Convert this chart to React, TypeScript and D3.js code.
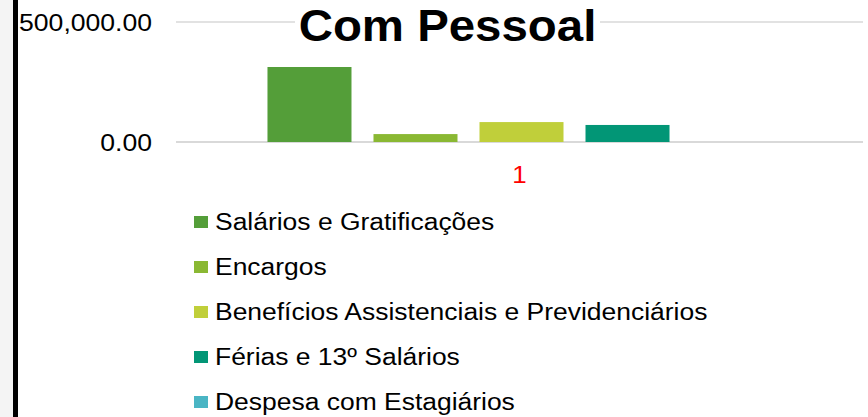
import React from "react";
import * as d3 from "d3";

const categories = ["1"];
const seriesNames = [
  "Salários e Gratificações",
  "Encargos",
  "Benefícios Assistenciais e Previdenciários",
  "Férias e 13º Salários",
  "Despesa com Estagiários",
];
const seriesValues = [312500, 33000, 83000, 71000, 0];
const seriesColors = ["#549e39", "#8ab833", "#c0cf3a", "#029676", "#4ab5c4"];
const yTicks = [0, 500000];
const title = "Com Pessoal";

const W = 868;
const H = 417;
const SX = 1.08;
const FONT = "'Liberation Sans', Arial, sans-serif";

export default function App() {
  const y = d3.scaleLinear().domain([0, 500000]).range([142, 22]);
  const x0 = d3.scaleBand<string>().domain(categories).range([176, 863]).paddingInner(0).paddingOuter(0.148);
  const x1 = d3
    .scaleBand<string>()
    .domain(seriesNames)
    .range([2, x0.bandwidth() + 2])
    .paddingInner(0.2075)
    .paddingOuter(0.104);
  const fmt = d3.format(",.2f");

  return (
    <div style={{ position: "fixed", left: 0, top: 0 }}>
      <svg width={W} height={H} style={{ display: "block", background: "#fff", fontFamily: FONT }}>
        <rect x={0} y={0} width={13} height={H} fill="#f4f4f4" />
        <rect x={13} y={0} width={5} height={H} fill="#000" />
        {yTicks.map((t) => (
          <g key={t}>
            <line x1={176} x2={863} y1={y(t)} y2={y(t)} stroke="#d9d9d9" strokeWidth={t === 0 ? 2 : 1.5} />
            <text transform={`translate(152,${y(t) + 8.5}) scale(${SX},1)`} textAnchor="end" fontSize={24.6} fill="#000">
              {fmt(t)}
            </text>
          </g>
        ))}
        {categories.map((c) => (
          <g key={c}>
            {seriesNames.map((s, i) => (
              <rect
                key={s}
                x={(x0(c) ?? 0) + (x1(s) ?? 0)}
                y={y(seriesValues[i])}
                width={x1.bandwidth()}
                height={y(0) - y(seriesValues[i])}
                fill={seriesColors[i]}
              />
            ))}
            <text
              transform={`translate(${(x0(c) ?? 0) + x0.bandwidth() / 2},183) scale(${SX},1)`}
              textAnchor="middle"
              fontSize={24}
              fill="#ff0000"
            >
              {c}
            </text>
          </g>
        ))}
        <rect x={295} y={4} width={305} height={42} fill="#fff" />
        <text transform={`translate(447.5,41) scale(${SX},1)`} textAnchor="middle" fontSize={43.9} fontWeight="bold" fill="#000">
          {title}
        </text>
        {seriesNames.map((s, i) => (
          <g key={s}>
            <rect x={194} y={216 + i * 45} width={14} height={12} fill={seriesColors[i]} />
            <text transform={`translate(215,${229.5 + i * 45}) scale(${SX},1)`} fontSize={24.5} fill="#000">
              {s}
            </text>
          </g>
        ))}
      </svg>
    </div>
  );
}
